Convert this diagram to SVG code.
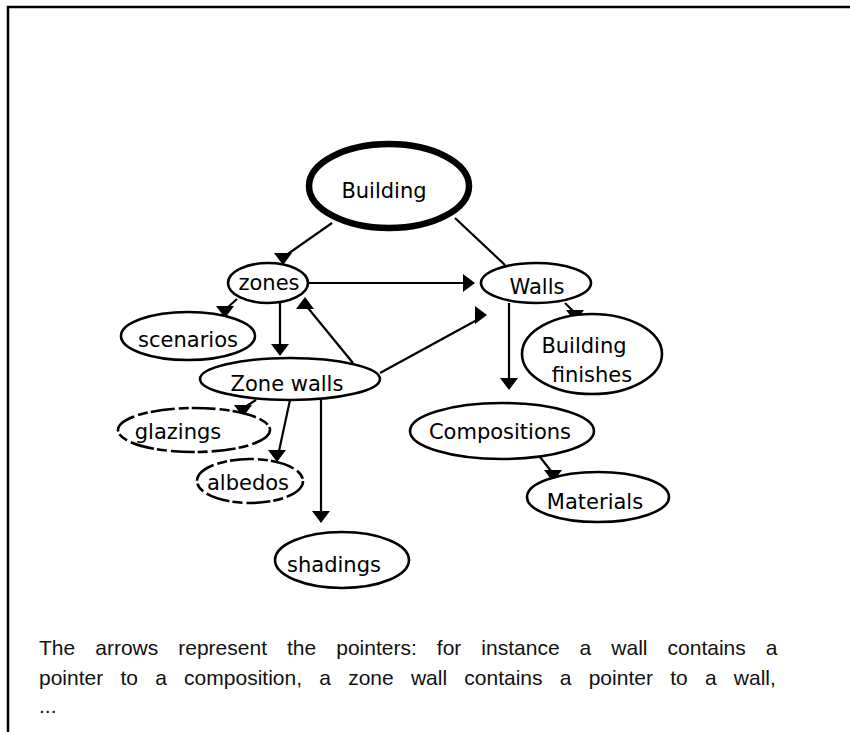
<svg xmlns="http://www.w3.org/2000/svg" xmlns:xlink="http://www.w3.org/1999/xlink" width="850" height="732" viewBox="0 0 850 732">
<style>
.node{fill:#fff;stroke:#000;stroke-width:2.6}
.thick{stroke-width:6.5}
.dash{stroke-dasharray:24 4 10 3}
.lbl{font-family:"DejaVu Sans","Liberation Sans",sans-serif;font-size:21px;fill:#000;text-anchor:middle}
.edge{stroke:#000;stroke-width:2.2;fill:none}
.cap{font-family:"Liberation Sans",Arial,sans-serif;font-size:21px;fill:#111}
</style>
<defs>
<path id="ad" d="M-9,-12 L9,-12 L0,0 Z"/>
<path id="au" d="M-9,12 L9,12 L0,0 Z"/>
<path id="ar" d="M-12,-9 L-12,9 L0,0 Z"/>
</defs>
<rect width="850" height="732" fill="#fff"/>
<path d="M8,732 V7 H850" fill="none" stroke="#000" stroke-width="2.5"/>

<g id="connectors">
<line class="edge" x1="332" y1="223" x2="285" y2="256"/>
<use href="#ad" x="283" y="265"/>
<line class="edge" x1="455" y1="218" x2="505" y2="265"/>
<line class="edge" x1="308" y1="283" x2="464" y2="283"/>
<use href="#ar" x="475" y="283"/>
<line class="edge" x1="237" y1="299" x2="227" y2="308"/>
<use href="#ad" x="225" y="318"/>
<line class="edge" x1="280" y1="303" x2="280" y2="345"/>
<use href="#ad" x="280" y="356"/>
<line class="edge" x1="353" y1="363" x2="308" y2="308"/>
<use href="#au" x="305" y="297"/>
<line class="edge" x1="380" y1="373" x2="477" y2="320"/>
<use href="#ar" x="487" y="315"/>
<line class="edge" x1="565" y1="303" x2="573" y2="311"/>
<use href="#ad" x="575" y="322"/>
<line class="edge" x1="509" y1="303" x2="509" y2="379"/>
<use href="#ad" x="509" y="390"/>
<line class="edge" x1="256" y1="400" x2="245" y2="407"/>
<use href="#ad" x="243" y="417"/>
<line class="edge" x1="290" y1="400" x2="279" y2="451"/>
<use href="#ad" x="277" y="462"/>
<line class="edge" x1="321" y1="400" x2="321" y2="512"/>
<use href="#ad" x="321" y="523"/>
<line class="edge" x1="540" y1="457" x2="551" y2="471"/>
<use href="#ad" x="553" y="482"/>
</g>

<g id="building">
<ellipse class="node thick" cx="389" cy="186" rx="80" ry="42"/>
<text class="lbl" x="384" y="198">Building</text>
</g>
<g id="zones">
<ellipse class="node" cx="268" cy="283" rx="40" ry="20"/>
<text class="lbl" x="269" y="290">zones</text>
</g>
<g id="walls">
<ellipse class="node" cx="536" cy="283" rx="55" ry="20"/>
<text class="lbl" x="537" y="294">Walls</text>
</g>
<g id="scenarios">
<ellipse class="node" cx="188" cy="336" rx="67" ry="24"/>
<text class="lbl" x="188" y="347">scenarios</text>
</g>
<g id="zone-walls">
<ellipse class="node" cx="290" cy="379" rx="90" ry="21"/>
<text class="lbl" x="287" y="391">Zone walls</text>
</g>
<g id="building-finishes">
<ellipse class="node" cx="592" cy="354" rx="70" ry="40"/>
<text class="lbl" x="584" y="353">Building</text>
<text class="lbl" x="592" y="382">finishes</text>
</g>
<g id="glazings">
<ellipse class="node dash" cx="194" cy="430" rx="76" ry="22"/>
<text class="lbl" x="178" y="439">glazings</text>
</g>
<g id="albedos">
<ellipse class="node dash" cx="250" cy="481" rx="53" ry="22"/>
<text class="lbl" x="248" y="490">albedos</text>
</g>
<g id="shadings">
<ellipse class="node" cx="342" cy="560" rx="67" ry="28"/>
<text class="lbl" x="334" y="572">shadings</text>
</g>
<g id="compositions">
<ellipse class="node" cx="502" cy="431" rx="92" ry="28"/>
<text class="lbl" x="500" y="439">Compositions</text>
</g>
<g id="materials">
<ellipse class="node" cx="598" cy="497" rx="71" ry="25"/>
<text class="lbl" x="595" y="509">Materials</text>
</g>

<text class="cap" x="39" y="655" word-spacing="14.2">The arrows represent the pointers: for instance a wall contains a</text>
<text class="cap" x="39" y="685" word-spacing="11.4">pointer to a composition, a zone wall contains a pointer to a wall,</text>
<text class="cap" x="39" y="713">...</text>
</svg>
